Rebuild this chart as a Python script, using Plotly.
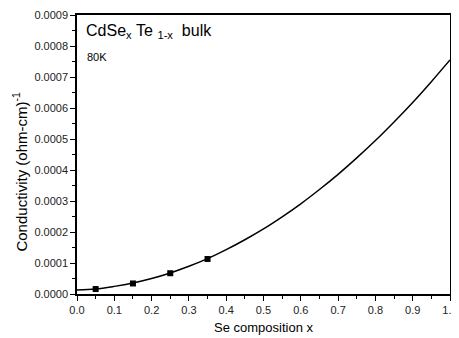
import plotly.graph_objects as go

# measured points
x_pts = [0.05, 0.15, 0.25, 0.35]
y_pts = [0.000016, 0.000034, 0.000067, 0.000113]

# fitted curve
x_fit = [0.0, 0.05, 0.1, 0.15, 0.2, 0.25, 0.3, 0.35, 0.4, 0.45, 0.5,
         0.55, 0.6, 0.65, 0.7, 0.75, 0.8, 0.85, 0.9, 0.95, 1.0]
y_fit = [0.000013, 0.000016, 0.0000246, 0.0000356, 0.000050, 0.000068,
         0.0000894, 0.000114, 0.000143, 0.000175, 0.000210, 0.000249,
         0.000291, 0.000337, 0.000386, 0.000439, 0.000495, 0.000555,
         0.000618, 0.000685, 0.000755]

x_ticks = [0.0, 0.1, 0.2, 0.3, 0.4, 0.5, 0.6, 0.7, 0.8, 0.9, 1.0]
y_ticks = [0.0, 0.0001, 0.0002, 0.0003, 0.0004, 0.0005, 0.0006, 0.0007, 0.0008, 0.0009]

fig = go.Figure()
fig.add_trace(go.Scatter(x=x_fit, y=y_fit, mode="lines", line=dict(color="black", width=1.5, shape="spline"),
                         showlegend=False, hoverinfo="skip"))
fig.add_trace(go.Scatter(x=x_pts, y=y_pts, mode="markers",
                         marker=dict(symbol="square", size=6, color="black"), showlegend=False))

font = "Arial, Liberation Sans, sans-serif"
axis_common = dict(showline=True, linecolor="black", linewidth=1.5, mirror=True,
                   ticks="outside", ticklen=5, tickwidth=1, tickcolor="black",
                   showgrid=False, zeroline=False, automargin=False,
                   tickfont=dict(family=font, size=11, color="#222222"))

fig.update_xaxes(range=[0, 1.0], tickvals=x_ticks, tickformat=".1f",
                 ticklabeloverflow="allow",
                 minor=dict(ticks="outside", ticklen=3, tickcolor="black", dtick=0.05, tick0=0),
                 **axis_common)
fig.update_yaxes(range=[0, 0.0009], tickvals=y_ticks, tickformat=".4f",
                 minor=dict(ticks="outside", ticklen=3, tickcolor="black", dtick=0.00005, tick0=0),
                 **axis_common)

# axis titles
fig.add_annotation(x=0.5, y=0, xref="paper", yref="paper", yshift=-33, xanchor="center", yanchor="middle",
                   text="Se composition x", showarrow=False,
                   font=dict(family=font, size=13, color="black"))
fig.add_annotation(x=0, y=0.000395, xref="paper", yref="y", xshift=-57, xanchor="center", yanchor="middle",
                   text="Conductivity (ohm-cm)<sup>-1</sup>", textangle=-90, showarrow=False,
                   font=dict(family=font, size=15, color="black"))

fig.add_annotation(x=0.019, y=0.000848, xref="x", yref="y", xanchor="left", yanchor="middle",
                   text="CdSe<sub>x</sub>&nbsp;Te&nbsp;<sub>1-x</sub>&nbsp;&nbsp;bulk", showarrow=False,
                   font=dict(family=font, size=16, color="black"))
fig.add_annotation(x=0.022, y=0.000765, xref="x", yref="y", xanchor="left", yanchor="middle",
                   text="80K", showarrow=False, font=dict(family=font, size=11, color="black"))

# page body has an 8px default margin; figure sized so the frame fits the visible window
fig.update_layout(width=445, height=330, margin=dict(l=69, r=3, t=7, b=44),
                  plot_bgcolor="white", paper_bgcolor="white")

fig.write_html("out.html")
